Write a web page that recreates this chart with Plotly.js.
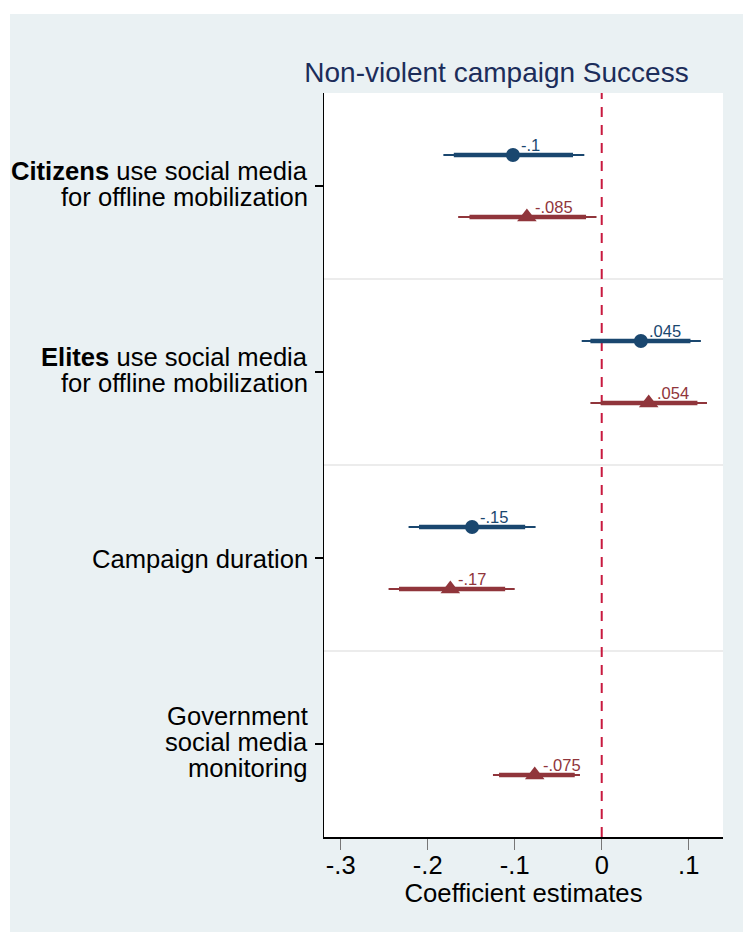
<!DOCTYPE html>
<html>
<head>
<meta charset="utf-8">
<script src="https://cdn.plot.ly/plotly-3.0.1.min.js"></script>
<style>
html,body{margin:0;padding:0;background:#ffffff;}
#chart{position:absolute;left:10px;top:14px;width:733px;height:918px;}
</style>
</head>
<body>
<div id="chart"></div>
<script>
// Row (group) labels, top to bottom, each line separate
const rowLabels = [
  ["<b>Citizens</b> use social media", "for offline mobilization"],
  ["<b>Elites</b> use social media", "for offline mobilization"],
  ["Campaign duration"],
  ["Government", "social media", "monitoring"]
];
// group centre positions on the y scale (top group highest)
const groupPos = [3.5, 2.5, 1.5, 0.5];

// Model 1 (blue, circles) - no estimate for last row
const blueEst   = [-0.102, 0.045, -0.149, null];
const blueLo95  = [-0.182, -0.023, -0.222, null];
const blueHi95  = [-0.020, 0.114, -0.076, null];
const blueLo90  = [-0.170, -0.013, -0.210, null];
const blueHi90  = [-0.033, 0.102, -0.088, null];
const blueLabel = ["-.1", ".045", "-.15", ""];

// Model 2 (red, triangles)
const redEst   = [-0.086, 0.054, -0.174, -0.077];
const redLo95  = [-0.165, -0.013, -0.245, -0.125];
const redHi95  = [-0.006, 0.121, -0.100, -0.025];
const redLo90  = [-0.152, -0.001, -0.233, -0.118];
const redHi90  = [-0.018, 0.110, -0.111, -0.031];
const redLabel = ["-.085", ".054", "-.17", "-.075"];

const xTickVals = [-0.3, -0.2, -0.1, 0, 0.1];
const xTickText = ["-.3", "-.2", "-.1", "0", ".1"];

const BLUE = "#1a476f";
const RED = "#90353b";
const offset = 1/6;
const FONT = "Liberation Sans, Arial, sans-serif";

const bluePos = groupPos.map(g => g + offset);
const redPos = groupPos.map(g => g - offset);

function segs(lo, hi, pos, est) {
  const xs = [], ys = [];
  for (let i = 0; i < lo.length; i++) {
    if (est[i] === null) continue;
    xs.push(lo[i], hi[i], null);
    ys.push(pos[i], pos[i], null);
  }
  return {x: xs, y: ys};
}
function pts(est, pos) {
  const xs = [], ys = [];
  est.forEach((v, i) => { if (v !== null) { xs.push(v); ys.push(pos[i]); } });
  return {x: xs, y: ys};
}

const b95 = segs(blueLo95, blueHi95, bluePos, blueEst);
const b90 = segs(blueLo90, blueHi90, bluePos, blueEst);
const r95 = segs(redLo95, redHi95, redPos, redEst);
const r90 = segs(redLo90, redHi90, redPos, redEst);
const bp = pts(blueEst, bluePos);
const rp = pts(redEst, redPos);

const traces = [
  {x: b95.x, y: b95.y, mode: "lines", line: {color: BLUE, width: 2}, hoverinfo: "skip"},
  {x: b90.x, y: b90.y, mode: "lines", line: {color: BLUE, width: 4.5}, hoverinfo: "skip"},
  {x: bp.x, y: bp.y, mode: "markers", marker: {color: BLUE, size: 14, symbol: "circle"}},
  {x: r95.x, y: r95.y, mode: "lines", line: {color: RED, width: 2}, hoverinfo: "skip"},
  {x: r90.x, y: r90.y, mode: "lines", line: {color: RED, width: 4.5}, hoverinfo: "skip"},
  {x: rp.x, y: rp.y, mode: "markers", marker: {color: RED, size: 17, symbol: "triangle-up"}}
];

const annotations = [];
// value labels
blueEst.forEach((v, i) => {
  if (v === null) return;
  annotations.push({x: v, y: bluePos[i], xref: "x", yref: "y", text: blueLabel[i],
    showarrow: false, xanchor: "left", yanchor: "middle", xshift: 6, yshift: 10,
    font: {family: FONT, size: 16.5, color: BLUE}});
});
redEst.forEach((v, i) => {
  if (v === null) return;
  annotations.push({x: v, y: redPos[i], xref: "x", yref: "y", text: redLabel[i],
    showarrow: false, xanchor: "left", yanchor: "middle", xshift: 6, yshift: 10,
    font: {family: FONT, size: 16.5, color: RED}});
});
// row labels
const lineGap = 26;
rowLabels.forEach((lines, i) => {
  const n = lines.length;
  lines.forEach((t, j) => {
    annotations.push({x: 0, y: groupPos[i], xref: "paper", yref: "y", text: t,
      showarrow: false, xanchor: "right", yanchor: "middle", xshift: -14,
      yshift: ((n - 1) / 2 - j) * lineGap + (n > 1 ? 2 : -1),
      font: {family: FONT, size: 25.6, color: "#000000"}});
  });
});

const shapes = [];
[1, 2, 3].forEach(v => shapes.push({type: "line", xref: "paper", yref: "y", x0: 0, x1: 1, y0: v, y1: v,
  line: {color: "#ececec", width: 2}, layer: "below"}));
shapes.push({type: "line", xref: "x", yref: "paper", x0: 0, x1: 0, y0: 0, y1: 1,
  line: {color: "#c8193f", width: 2, dash: "10px,8px"}, layer: "below"});

const layout = {
  width: 733, height: 918,
  paper_bgcolor: "#eaf1f3",
  plot_bgcolor: "#ffffff",
  margin: {l: 314, r: 20, t: 79, b: 95},
  showlegend: false,
  title: {text: "Non-violent campaign Success", xref: "container", yref: "container",
    x: 0.6637, xanchor: "center", y: 0.937, yanchor: "middle",
    font: {family: FONT, size: 28, color: "#1c2d5a"}},
  xaxis: {range: [-0.3192, 0.1394], tickvals: xTickVals, ticktext: xTickText,
    ticks: "outside", ticklen: 11, tickwidth: 1.5, tickcolor: "#777777",
    ticklabelstandoff: -6,
    showline: true, linecolor: "#000000", linewidth: 1.5, showgrid: false, zeroline: false,
    tickfont: {family: FONT, size: 25.5, color: "#000000"},
    title: {text: "Coefficient estimates", standoff: 2,
      font: {family: FONT, size: 25.7, color: "#000000"}}},
  yaxis: {range: [0, 4], tickvals: groupPos, ticktext: groupPos.map(() => ""),
    ticks: "outside", ticklen: 8, tickwidth: 1.2, tickcolor: "#000000",
    showline: true, linecolor: "#000000", linewidth: 1.5, showgrid: false, zeroline: false,
    showticklabels: false},
  annotations: annotations,
  shapes: shapes
};

Plotly.newPlot("chart", traces, layout, {displayModeBar: false, staticPlot: true});
</script>
</body>
</html>
